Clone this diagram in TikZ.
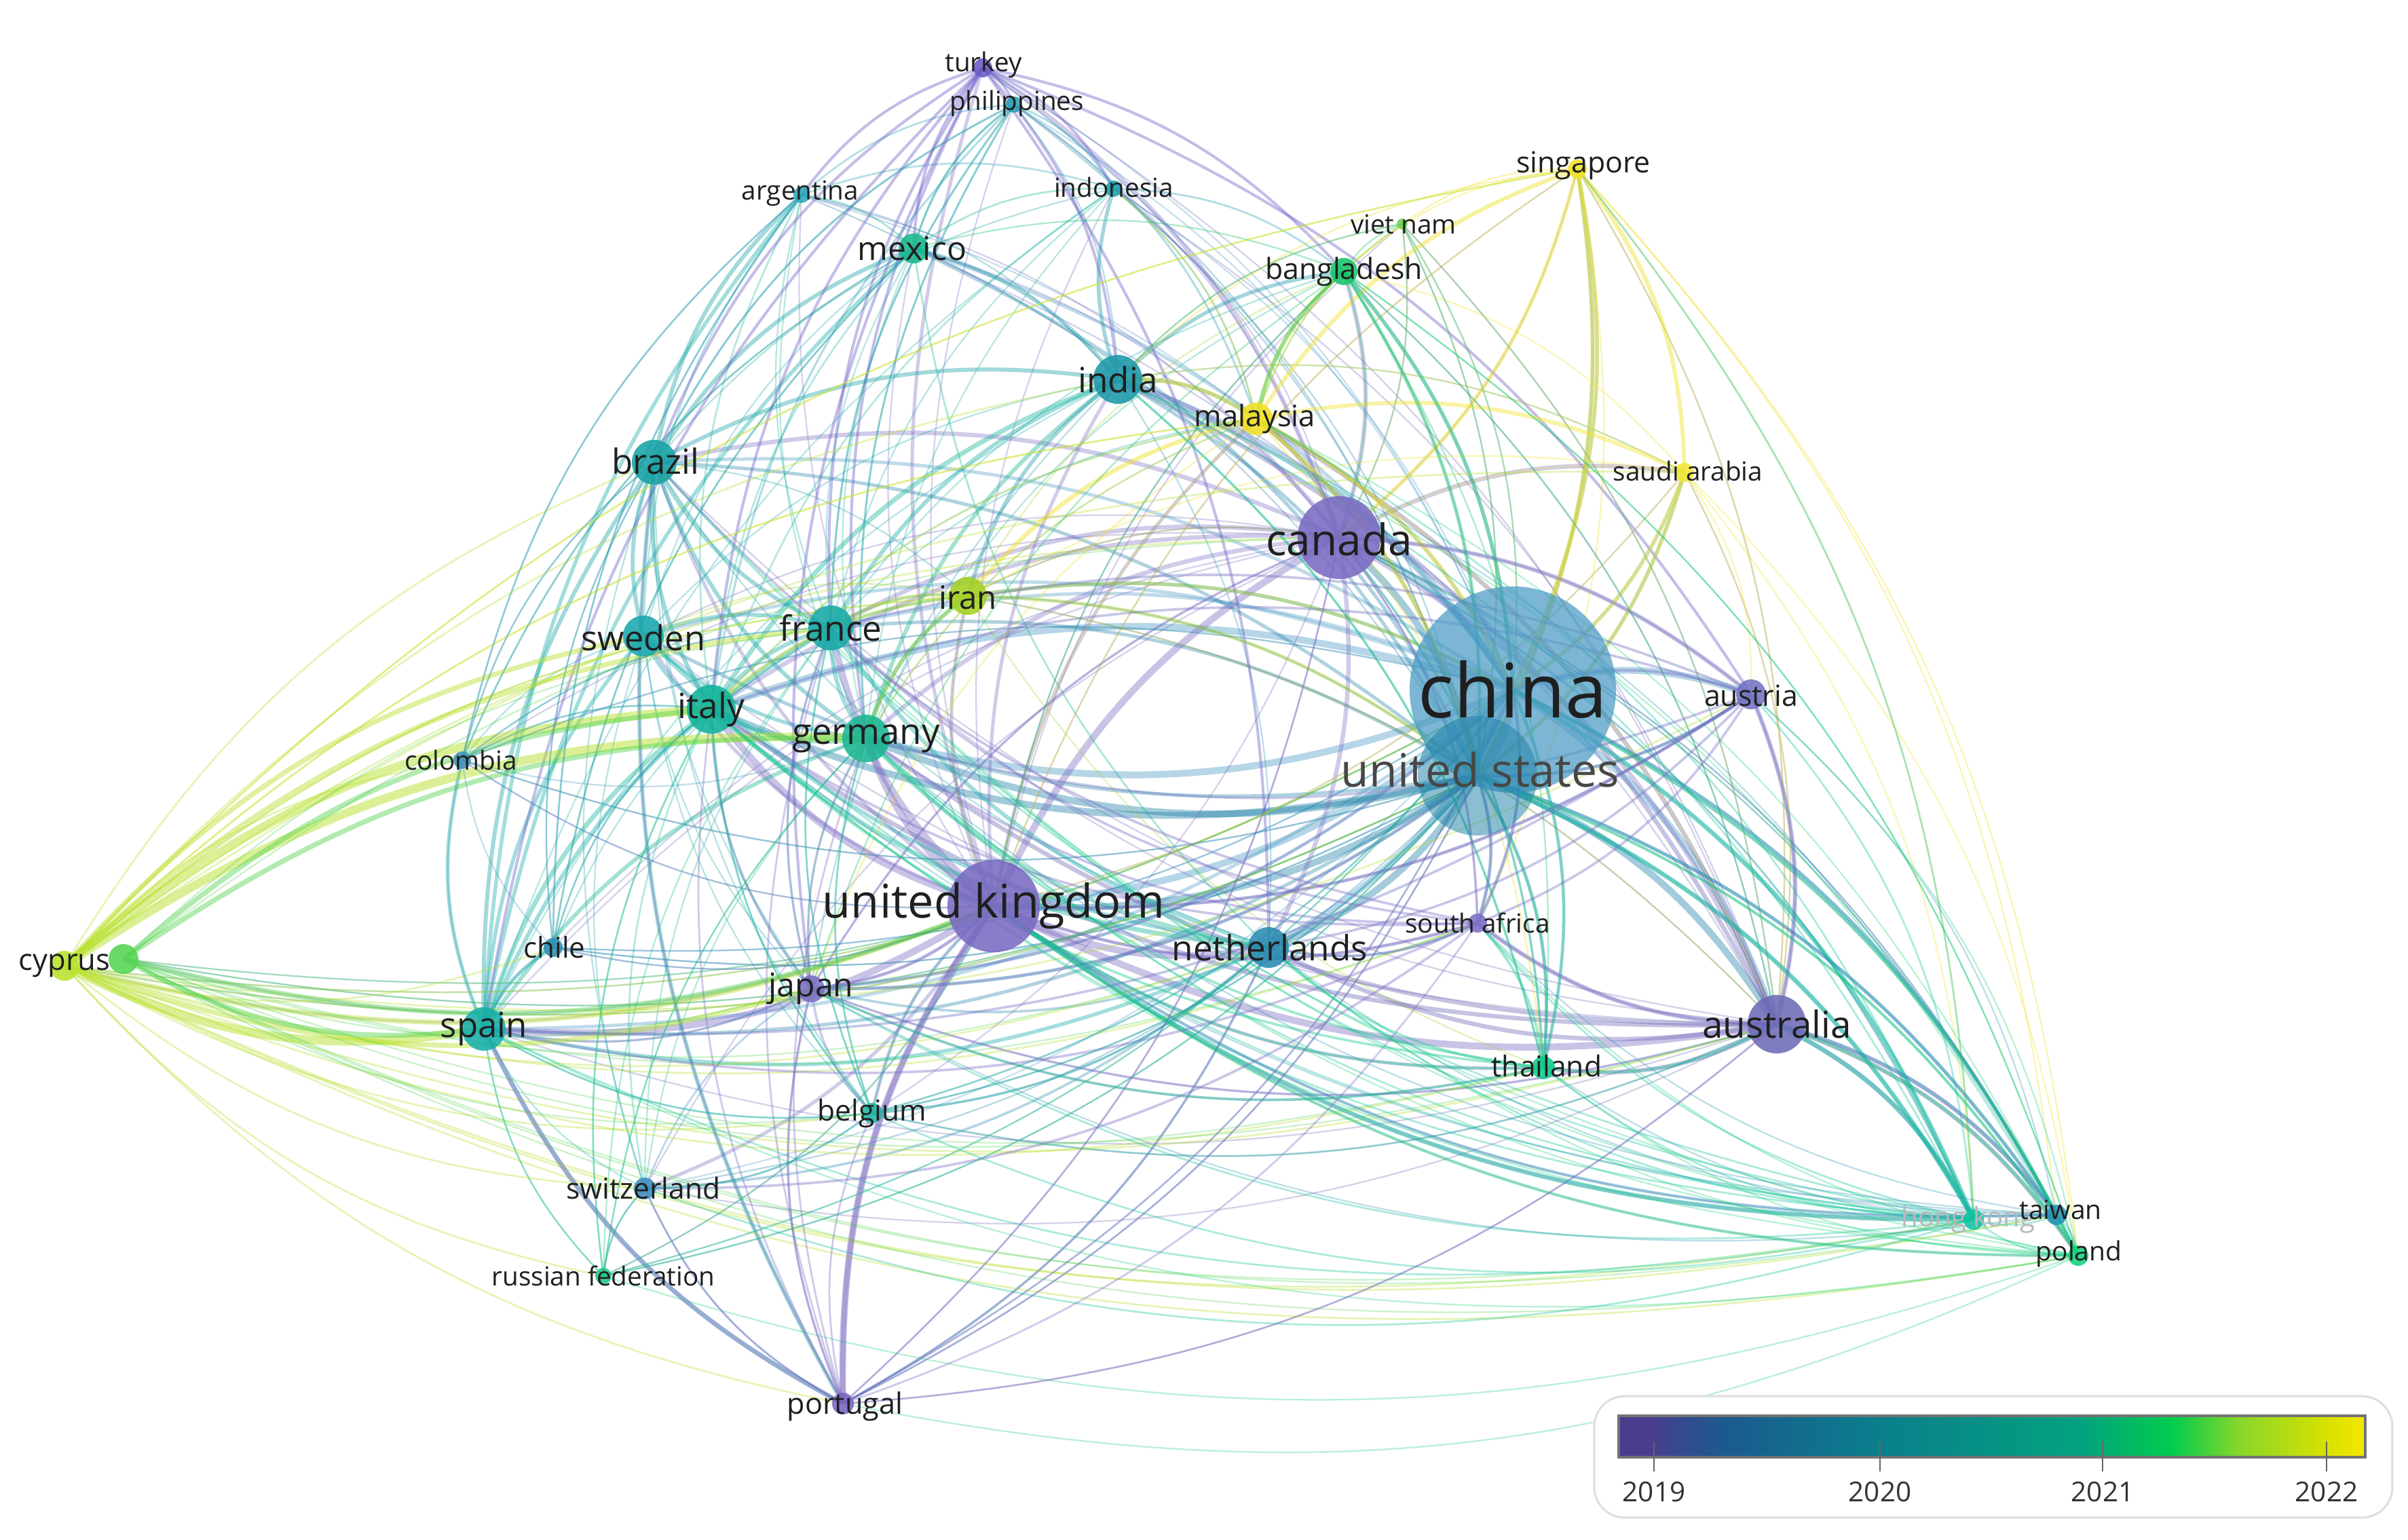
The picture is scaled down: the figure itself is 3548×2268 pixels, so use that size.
\documentclass[tikz,border=0pt]{standalone}
\usepackage{fontspec}
\setmainfont{Open Sans}
\pgfdeclarelayer{bg}
\pgfdeclarelayer{edges}
\pgfsetlayers{bg,edges,main}

\definecolor{ktur}{HTML}{6A5CC6}
\definecolor{kphi}{HTML}{2AA0B5}
\definecolor{karg}{HTML}{2AA8B8}
\definecolor{kidn}{HTML}{1FA0B0}
\definecolor{kmex}{HTML}{18B88E}
\definecolor{kvie}{HTML}{6FD24A}
\definecolor{kban}{HTML}{14C46A}
\definecolor{ksin}{HTML}{F1E22A}
\definecolor{kind}{HTML}{1C98A8}
\definecolor{kmal}{HTML}{F0E024}
\definecolor{kbra}{HTML}{17A2A4}
\definecolor{ksau}{HTML}{F2E63A}
\definecolor{kcan}{HTML}{7A6BC2}
\definecolor{kchn}{HTML}{4A9AC4}
\definecolor{kusa}{HTML}{1A7FA6}
\definecolor{kirn}{HTML}{A5D125}
\definecolor{kaut}{HTML}{7273C2}
\definecolor{kswe}{HTML}{1AA8AE}
\definecolor{kfra}{HTML}{17AAA8}
\definecolor{kita}{HTML}{12B39A}
\definecolor{kger}{HTML}{1CB592}
\definecolor{kcol}{HTML}{3E93B8}
\definecolor{kuk}{HTML}{7A6BC2}
\definecolor{kcyp}{HTML}{B9E22E}
\definecolor{kcyq}{HTML}{55D452}
\definecolor{kchl}{HTML}{2A8FB5}
\definecolor{kjpn}{HTML}{7A70C4}
\definecolor{knet}{HTML}{2A8BB0}
\definecolor{ksaf}{HTML}{7E70C8}
\definecolor{kspa}{HTML}{17AEAA}
\definecolor{kaus}{HTML}{6E6BB8}
\definecolor{ktha}{HTML}{12C98C}
\definecolor{kbel}{HTML}{1FB6A2}
\definecolor{kswi}{HTML}{3E8EC0}
\definecolor{krus}{HTML}{1FC884}
\definecolor{khk}{HTML}{12C3A0}
\definecolor{ktwn}{HTML}{2592B5}
\definecolor{kpol}{HTML}{14D27A}
\definecolor{kpor}{HTML}{7A66C0}

\definecolor{sa}{HTML}{4A3D8F}
\definecolor{sb}{HTML}{1B5A8E}
\definecolor{sc}{HTML}{0A7F8C}
\definecolor{sd}{HTML}{03A27E}
\definecolor{se}{HTML}{00CC4E}
\definecolor{sf}{HTML}{86D62A}
\definecolor{sg}{HTML}{D9E200}
\definecolor{sh}{HTML}{F4E600}
\pgfdeclarehorizontalshading{vos}{100bp}{color(0bp)=(sa); color(25bp)=(sa); color(27bp)=(sa); color(32bp)=(sb); color(42.5bp)=(sc); color(56bp)=(sd); color(62bp)=(se); color(66.5bp)=(sf); color(72.5bp)=(sg); color(75bp)=(sh); color(100bp)=(sh)}

\newcommand\ctry[4]{%
  \expandafter\xdef\csname px#1\endcsname{#2}%
  \expandafter\xdef\csname py#1\endcsname{#3}%
  \node[ball,minimum size=#4*0.02cm,fill=k#1] (#1) at (#2,#3) {};}

\newcommand\vosedge[4]{%
  \edef\xa{\csname px#1\endcsname}\edef\ya{\csname py#1\endcsname}%
  \edef\xb{\csname px#2\endcsname}\edef\yb{\csname py#2\endcsname}%
  \edef\ecol{k#1}%
  \pgfmathsetmacro\bnd{18*sign(((\yb-\ya)/100)*((\xa+\xb)/200-17.5)+((\xb-\xa)/100)*(10.5-(\ya+\yb)/200))}%
  \draw[line width={1.3*#3pt},draw=\ecol,draw opacity=#4] (#1.center) to[bend left=\bnd] (#2.center);}

\begin{document}
\begin{tikzpicture}[x=0.01cm,y=-0.01cm,
  ball/.style={circle,inner sep=0pt,draw=none,fill opacity=0.88},
  lab/.style={font=\fontsize{#1pt}{#1pt}\selectfont,text=black!88,inner sep=0pt}]
\useasboundingbox (0,0) rectangle (3548,2268);
\begin{pgfonlayer}{bg}
\fill[white] (0,0) rectangle (3548,2268);
\end{pgfonlayer}

% nodes
\ctry{tur}{1448}{100}{14}
\ctry{phi}{1494}{154}{12}
\ctry{arg}{1181}{287}{12}
\ctry{idn}{1641}{278}{12}
\ctry{mex}{1346}{366}{22}
\ctry{vie}{2066}{330}{8}
\ctry{ban}{1980}{400}{20}
\ctry{sin}{2324}{249}{14}
\ctry{ind}{1647}{559}{36}
\ctry{mal}{1851}{617}{24}
\ctry{bra}{964}{681}{33}
\ctry{sau}{2482}{696}{14}
\ctry{irn}{1426}{878}{28}
\ctry{aut}{2580}{1023}{22}
\ctry{swe}{948}{937}{30}
\ctry{fra}{1224}{925}{33}
\ctry{ita}{1048}{1045}{36}
\ctry{ger}{1276}{1088}{35}
\ctry{col}{681}{1120}{13}
\ctry{cyp}{95}{1423}{22}
\ctry{cyq}{182}{1413}{22}
\ctry{chl}{815}{1396}{14}
\ctry{jpn}{1195}{1457}{20}
\ctry{net}{1869}{1396}{30}
\ctry{saf}{2177}{1360}{14}
\ctry{spa}{713}{1516}{32}
\ctry{tha}{2274}{1573}{17}
\ctry{bel}{1285}{1640}{15}
\ctry{swi}{950}{1751}{16}
\ctry{rus}{889}{1880}{12}
\ctry{hk}{2908}{1797}{15}
\ctry{twn}{3030}{1790}{15}
\ctry{pol}{3062}{1850}{15}
\ctry{por}{1242}{2068}{16}
\ctry{aus}{2618}{1509}{43}
\ctry{can}{1973}{792}{61}
\ctry{uk}{1464}{1335}{68}
\node[circle,inner sep=0pt,minimum size=304*0.01cm,fill=kchn,fill opacity=0.72] (chn) at (2229,1016) {};
\expandafter\xdef\csname pxchn\endcsname{2229}\expandafter\xdef\csname pychn\endcsname{1016}
\node[circle,inner sep=0pt,minimum size=176*0.01cm,fill=kusa,fill opacity=0.5] (usa) at (2177,1143) {};
\expandafter\xdef\csname pxusa\endcsname{2177}\expandafter\xdef\csname pyusa\endcsname{1143}

% edges
\begin{pgfonlayer}{edges}
\foreach \sr/\wd/\op/\tl in {
 chn/2.2/0.4/{usa,uk,can,aus,net,ger,ita,ind,aut},
 chn/1.1/0.35/{fra,bra,swe,spa,jpn,saf,mal,sin,sau,hk,twn,tha,irn,ban,pol,mex},
 chn/0.5/0.3/{tur,phi,arg,idn,vie,col,chl,bel,swi,rus,por,cyp,cyq},
 usa/2.2/0.4/{uk,can,aus,ger,ita,net},
 usa/1.1/0.35/{fra,bra,ind,spa,swe,jpn,saf,aut,hk,twn,mex,sin,mal,tha,sau},
 usa/0.5/0.3/{tur,phi,arg,idn,vie,ban,irn,col,chl,bel,swi,rus,por,pol,cyp,cyq},
 uk/2.2/0.4/{can,aus,net,ger,ita,spa,fra,por},
 uk/1.1/0.35/{bra,swe,ind,jpn,saf,bel,swi,tur,aut,mal,irn,hk,tha},
 uk/0.5/0.3/{phi,arg,idn,mex,vie,ban,sin,sau,col,chl,rus,twn,pol,cyp,cyq},
 can/1.4/0.35/{aus,ind,ger,ita,fra,bra,net,tur,mal,sau,ban,aut},
 can/0.5/0.3/{phi,arg,idn,mex,vie,sin,swe,spa,jpn,saf,hk,twn,pol,tha,irn,col,chl,bel,swi,por},
 aus/1.4/0.4/{net,ger,ita,hk,twn,pol,tha,saf,ind,mal,aut},
 aus/0.5/0.3/{fra,bra,swe,spa,jpn,sin,sau,ban,vie,irn,idn,mex,tur,bel,swi,por},
 bra/1.3/0.4/{swe,fra,ita,ger,spa,arg,mex,ind,por},
 bra/0.5/0.3/{idn,col,chl,phi,net,jpn,swi,bel,irn},
 swe/1.2/0.4/{ita,fra,ger,spa,net},
 swe/0.5/0.3/{ind,mex,arg,swi,bel,jpn,col},
 fra/1.3/0.4/{ita,ger,spa,ind,net},
 fra/0.5/0.3/{mex,arg,irn,idn,phi,bel,swi,jpn,col,chl,mal,ban},
 ita/1.5/0.4/{ger,spa,ind,net},
 ita/0.6/0.3/{mex,col,chl,irn,arg,idn,jpn,bel,swi,rus,mal},
 ger/1.3/0.4/{spa,ind,net,irn},
 ger/0.5/0.3/{mex,bel,swi,jpn,arg,idn,phi,rus,mal,ban},
 spa/1.2/0.4/{chl,col,mex,arg,por,net},
 spa/0.5/0.3/{bel,swi,jpn,ind,idn,rus},
 ind/1.2/0.4/{mex,idn,mal,ban,irn},
 ind/0.5/0.3/{arg,phi,net,jpn,tha,sau,vie},
 mex/0.6/0.35/{arg,idn,phi,col,chl,net},
 arg/0.6/0.35/{idn,phi,col,chl},
 idn/0.6/0.35/{phi,mal,ban},
 net/0.8/0.35/{bel,swi,jpn,saf,por},
 swi/0.6/0.35/{bel,rus,por,jpn},
 jpn/0.8/0.35/{tha,por,bel,chn,usa,uk,can,aus,ger,fra,ita,spa},
 tur/0.9/0.4/{phi,ind,idn,mex,bra,fra,ita,ger,spa,net,aut,ban,jpn,arg},
 phi/0.7/0.35/{mex,bra,fra,ita,ger,mal},
 sin/1.3/0.45/{mal,sau,chn,usa,can},
 sin/0.5/0.35/{aus,uk,ind,ban,vie,cyp,hk,twn,pol,saf},
 sau/1.3/0.45/{mal,chn,usa},
 sau/0.5/0.35/{ban,can,uk,aus,ind,irn,aut,pol,hk},
 mal/1.4/0.45/{ind,ban,irn,chn,usa},
 mal/0.5/0.35/{can,uk,aus,jpn,tha,idn,vie,ita,ger,cyp},
 irn/1.2/0.4/{ita,fra,ger,chn,usa},
 irn/0.5/0.3/{swe,can,uk,aus,cyp,tha,ban},
 ban/1.2/0.4/{chn,usa,mal},
 ban/0.5/0.35/{can,uk,aus,mex,vie,tha,jpn,pol},
 vie/0.5/0.35/{mal,chn,usa,can,aus,ind},
 cyp/2.8/0.5/{ita,ger,spa},
 cyp/1.6/0.45/{uk,fra,swe,jpn},
 cyp/0.6/0.35/{chn,usa,irn,net,bra,can,aus,hk,twn,pol,sin,mal,tha,bel,swi,rus,por,saf,ind,col,chl,sau,aut},
 cyq/1.6/0.45/{ita,ger,spa,uk},
 cyq/0.5/0.3/{chn,usa,net,hk,twn,pol,aus,can,fra,jpn,bel,tha,saf},
 hk/1.5/0.45/{aus,chn,usa,uk},
 hk/0.6/0.35/{can,net,ger,ita,fra,spa,tha,jpn,saf,aut,twn,pol,ind,bra,swe,bel,swi,mal,sin},
 twn/1.0/0.4/{chn,usa,aus,uk},
 twn/0.5/0.3/{can,net,ger,ita,pol,jpn,aut,saf,ind,tha},
 pol/1.0/0.4/{aus,uk,chn,usa},
 pol/0.5/0.3/{can,ita,ger,spa,fra,net,tha,saf,aut,por,bra,ind,mal,ban,rus},
 por/1.6/0.4/{uk,spa},
 por/0.6/0.35/{bra,usa,chn,ita,fra,ger,net,aus,jpn,swi,bel,can,saf},
 tha/0.8/0.4/{chn,usa,aus,uk,jpn,can,ger,net,saf,ind,ita},
 saf/0.8/0.4/{chn,usa,uk,aus,can,net,ger,ita,spa,bra,fra,aut,swi},
 aut/0.8/0.4/{chn,usa,uk,can,aus,ger,ita,net,spa,fra},
 col/0.5/0.3/{chl,spa,ita,bra,arg,mex,usa,uk,chn,fra,ger},
 chl/0.5/0.3/{spa,bra,arg,ita,usa,uk,chn,mex},
 rus/0.5/0.35/{swi,ger,ita,uk,usa,chn,spa,fra},
 bel/0.6/0.35/{net,ger,uk,usa,chn,ita,spa,fra,swi,aus}}
 {\foreach \tg in \tl {\vosedge{\sr}{\tg}{\wd}{\op}}}
\end{pgfonlayer}

% labels
\node[lab=11] (turL) at (1449,95) {turkey};
\node[lab=11] (phiL) at (1498,152) {philippines};
\node[lab=11] (argL) at (1179,285) {argentina};
\node[lab=11] (idnL) at (1641,276) {indonesia};
\node[lab=13.7] (mexL) at (1344,366) {mexico};
\node[lab=11] (vieL) at (2068,330) {viet nam};
\node[lab=12.2] (banL) at (1980,400) {bangladesh};
\node[lab=12.2] (sinL) at (2333,244) {singapore};
\node[lab=14.6] (indL) at (1647,559) {india};
\node[lab=12.4] (malL) at (1849,617) {malaysia};
\node[lab=14.5] (braL) at (966,679) {brazil};
\node[lab=11] (sauL) at (2487,694) {saudi arabia};
\node[lab=18.2] (canL) at (1973,794) {canada};
\node[lab=31.5] (chnL) at (2229,1016) {china};
\node[lab=19.3,text=black!72] (usaL) at (2181,1134) {united states};
\node[lab=13.5] (irnL) at (1426,880) {iran};
\node[lab=12.2] (autL) at (2580,1025) {austria};
\node[lab=14.4] (sweL) at (948,939) {sweden};
\node[lab=14.6] (fraL) at (1224,925) {france};
\node[lab=14.6] (itaL) at (1048,1045) {italy};
\node[lab=15] (gerL) at (1276,1088) {germany};
\node[lab=11] (colL) at (679,1120) {colombia};
\node[lab=19.5] (ukL) at (1464,1335) {united kingdom};
\node[lab=12.4] (cypL) at (95,1423) {cyprus};
\node[lab=12] (chlL) at (817,1396) {chile};
\node[lab=13.7] (jpnL) at (1195,1457) {japan};
\node[lab=14.6] (netL) at (1871,1396) {netherlands};
\node[lab=11] (safL) at (2177,1360) {south africa};
\node[lab=14.5] (spaL) at (713,1516) {spain};
\node[lab=15.6] (ausL) at (2618,1509) {australia};
\node[lab=12.1] (thaL) at (2279,1571) {thailand};
\node[lab=12.1] (belL) at (1285,1640) {belgium};
\node[lab=12.1] (swiL) at (948,1751) {switzerland};
\node[lab=11] (rusL) at (889,1880) {russian federation};
\node[lab=11.4,text=black!28] (hkL) at (2900,1797) {hong kong};
\node[lab=11.1] (twnL) at (3036,1782) {taiwan};
\node[lab=11.1] (polL) at (3063,1847) {poland};
\node[lab=12.3] (porL) at (1245,2072) {portugal};

% legend
\draw[gray!25,line width=0.9pt,fill=white,rounded corners=0.45cm] (2349,2057) rectangle (3525,2236);
\shade[shading=vos] (2385,2086) rectangle (3485,2147);
\draw[black!55,line width=0.9pt] (2385,2086) rectangle (3485,2147);
\foreach \tx/\yr in {2437/2019,2770/2020,3098/2021,3428/2022}{
  \draw[black!60,line width=0.6pt] (\tx,2124) -- (\tx,2168);
  \node[font=\fontsize{11.5pt}{11.5pt}\selectfont,text=black!80,inner sep=0pt] (yr\yr) at (\tx,2198) {\yr};
}
\end{tikzpicture}
\end{document}
